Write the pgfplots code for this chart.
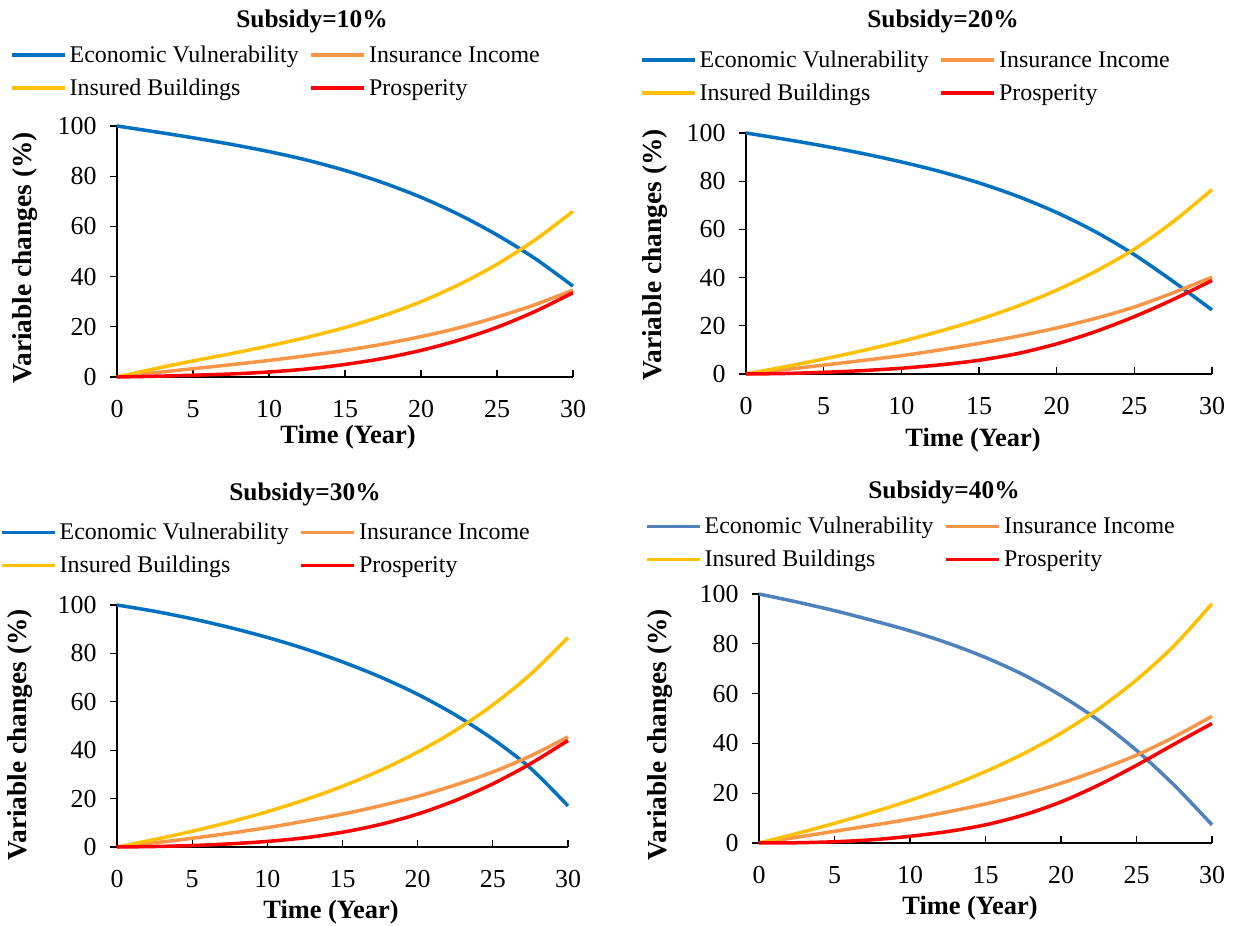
\documentclass[border=0pt]{standalone}
\usepackage{fontspec}
\setmainfont{Liberation Serif}
\usepackage{pgfplots}
\pgfplotsset{compat=1.18}
\usepackage{pgfplotstable}
\definecolor{cblue}{HTML}{0070C0}
\definecolor{cblueb}{HTML}{4F81BD}
\definecolor{corange}{HTML}{F79646}
\definecolor{cyellow}{HTML}{FFC000}
\definecolor{cred}{HTML}{FF0000}

\pgfplotstableread{
t    ev    ii    ib    pr
0    100   0     0     0
2.5  97.7  1.7   3.3   0.3
5    95.3  3.3   6.4   0.7
7.5  92.7  4.9   9.3   1.2
10   89.8  6.6   12.4  2.0
12.5 86.4  8.5   15.8  3.2
15   82.3  10.6  19.7  5.0
17.5 77.4  13.1  24.4  7.4
20   71.6  16.1  30.0  10.6
22.5 64.7  19.6  36.8  14.7
25   56.6  23.9  44.9  19.8
27.5 47.2  28.8  54.6  26.1
30   36.2  34.6  66.0  33.6
}\tabA
\pgfplotstableread{
t    ev    ii    ib    pr
0    100   0     0     0
2.5  97.4  1.8   3.0   0.2
5    94.6  3.7   6.2   0.7
7.5  91.5  5.6   9.7   1.4
10   88.0  7.6   13.5  2.4
12.5 84.0  10.0  17.8  3.8
15   79.3  12.7  22.6  5.7
17.5 73.7  15.7  28.2  8.5
20   67.0  19.1  34.8  12.5
22.5 59.0  23.1  42.6  17.6
25   49.5  27.8  51.8  23.8
27.5 38.4  33.7  63.2  30.9
30   26.6  40.2  76.5  38.8
}\tabB
\pgfplotstableread{
t    ev    ii    ib    pr
0    100   0     0     0
2.5  97.4  1.75  3.1   0.2
5    94.3  3.6   6.5   0.6
7.5  90.7  5.7   10.3  1.3
10   86.6  8.0   14.6  2.3
12.5 81.9  10.7  19.5  3.8
15   76.5  13.6  25.1  6.1
17.5 70.3  17.0  31.6  9.3
20   63.1  20.9  39.2  13.6
22.5 54.6  25.6  48.1  19.2
25   44.6  31.0  58.7  26.1
27.5 32.6  37.6  71.3  34.4
30   17.0  45.5  86.5  44.0
}\tabC
\pgfplotstableread{
t    ev    ii    ib    pr
0    100   0     0     0
2.5  96.8  2.3   3.8   0.1
5    93.3  4.7   7.9   0.5
7.5  89.4  7.1   12.3  1.3
10   85.2  9.6   17.1  2.7
12.5 80.3  12.5  22.5  4.6
15   74.5  15.7  28.7  7.3
17.5 67.6  19.5  35.8  11.2
20   59.2  24.0  44.1  16.5
22.5 49.2  29.3  53.9  23.3
25   37.2  35.3  65.5  31.2
27.5 23.2  42.6  79.3  39.7
30   7.3   50.9  96.1  48.0
}\tabD

\pgfplotsset{
 panel/.style={
  scale only axis,
  axis lines*=left,
  xmin=0,xmax=30,ymin=0,ymax=100,
  xtick={0,5,...,30}, ytick={0,20,...,100},
  axis line style={line width=1.5bp, black},
  tick style={line width=1.2bp, black},
  major tick length=7bp,
  tick align=outside,
  every major x tick/.append style={yshift=7bp},
  clip=false,
  /pgf/number format/assume math mode=true,
  ticklabel style={font=\fontsize{26}{26}\selectfont},
  xticklabel style={yshift=-13bp},
  yticklabel style={xshift=-10bp},
  legend columns=2,
  legend cell align=left,
  legend image code/.code={\draw[##1,line width=3.5bp] (0bp,0bp) -- (53bp,0bp);},
  legend style={draw=none, fill=none, anchor=north west,
    font=\fontsize{24}{24}\selectfont, inner sep=0pt, row sep=9bp,
    /tikz/every even column/.append style={column sep=8bp},
    nodes={inner sep=3bp}},
  every axis plot/.append style={line width=3.5bp, smooth, no markers},
 }
}

\begin{document}
\begin{tikzpicture}
\useasboundingbox (0,0) rectangle (1236bp,926bp);
% Panel 1
\begin{axis}[panel, at={(117bp,549bp)}, anchor=south west, width=456bp, height=251bp,
  legend style={at={(axis description cs:-0.2346,1.331)}}]
\addplot[cblue] table[x=t,y=ev]{\tabA};
\addplot[corange] table[x=t,y=ii]{\tabA};
\addplot[cyellow] table[x=t,y=ib]{\tabA};
\addplot[cred] table[x=t,y=pr]{\tabA};
\legend{Economic Vulnerability, Insurance Income, Insured Buildings, Prosperity}
\end{axis}
% Panel 2
\begin{axis}[panel, at={(746bp,552bp)}, anchor=south west, width=466bp, height=241bp,
  legend style={at={(axis description cs:-0.2275,1.353)}}]
\addplot[cblue] table[x=t,y=ev]{\tabB};
\addplot[corange] table[x=t,y=ii]{\tabB};
\addplot[cyellow] table[x=t,y=ib]{\tabB};
\addplot[cred] table[x=t,y=pr]{\tabB};
\legend{Economic Vulnerability, Insurance Income, Insured Buildings, Prosperity}
\end{axis}
% Panel 3
\begin{axis}[panel, at={(117bp,79bp)}, anchor=south west, width=451bp, height=242bp,
  legend style={at={(axis description cs:-0.2594,1.351)}}]
\addplot[cblue] table[x=t,y=ev]{\tabC};
\addplot[corange] table[x=t,y=ii]{\tabC};
\addplot[cyellow] table[x=t,y=ib]{\tabC};
\addplot[cred] table[x=t,y=pr]{\tabC};
\legend{Economic Vulnerability, Insurance Income, Insured Buildings, Prosperity}
\end{axis}
% Panel 4
\begin{axis}[panel, at={(759bp,83bp)}, anchor=south west, width=453bp, height=249bp,
  legend style={at={(axis description cs:-0.2517,1.321)}}]
\addplot[cblueb] table[x=t,y=ev]{\tabD};
\addplot[corange] table[x=t,y=ii]{\tabD};
\addplot[cyellow] table[x=t,y=ib]{\tabD};
\addplot[cred] table[x=t,y=pr]{\tabD};
\legend{Economic Vulnerability, Insurance Income, Insured Buildings, Prosperity}
\end{axis}
% Titles
\tikzset{ttl/.style={font=\fontsize{25.5}{25.5}\selectfont\bfseries, inner sep=0pt},
         ylbl/.style={font=\fontsize{27.5}{27.5}\selectfont\bfseries, inner sep=0pt},
         xlbl/.style={font=\fontsize{26.5}{26.5}\selectfont\bfseries, inner sep=0pt}}
\node[ttl] at (312bp,905bp) {Subsidy=10\%};
\node[ttl] at (943bp,905bp) {Subsidy=20\%};
\node[ttl] at (305bp,432bp) {Subsidy=30\%};
\node[ttl] at (944bp,434bp) {Subsidy=40\%};
% y labels
\node[ylbl, rotate=90] at (25bp,668bp) {Variable changes (\%)};
\node[ylbl, rotate=90] at (655bp,671bp) {Variable changes (\%)};
\node[ylbl, rotate=90] at (20bp,191bp) {Variable changes (\%)};
\node[ylbl, rotate=90] at (660bp,191bp) {Variable changes (\%)};
% x labels
\node[xlbl] at (348bp,489bp) {Time (Year)};
\node[xlbl] at (973bp,486bp) {Time (Year)};
\node[xlbl] at (331bp,14bp) {Time (Year)};
\node[xlbl] at (970bp,18bp) {Time (Year)};
\end{tikzpicture}
\end{document}
